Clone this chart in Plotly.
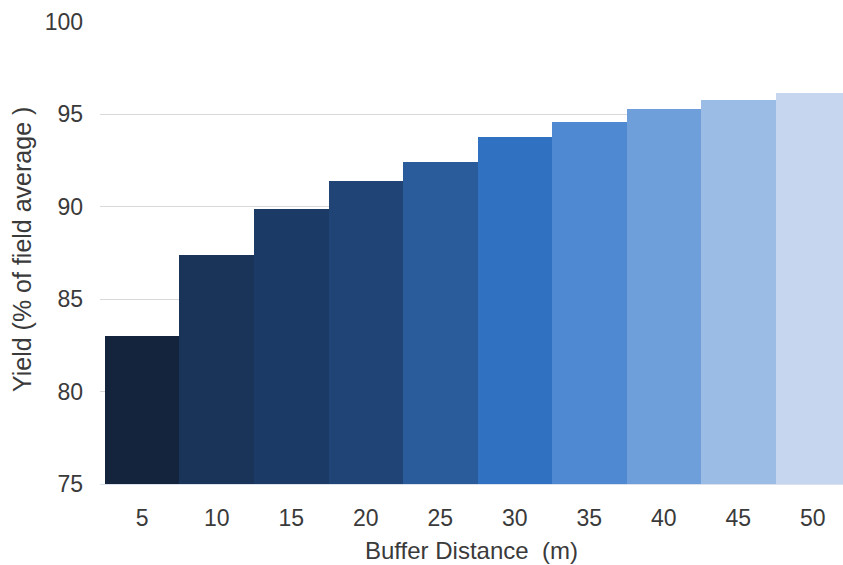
import plotly.graph_objects as go

categories = ["5", "10", "15", "20", "25", "30", "35", "40", "45", "50"]
yield_pct = [83.0, 87.4, 89.9, 91.4, 92.45, 93.8, 94.6, 95.3, 95.8, 96.15]
colors = ["#14243d", "#1a3459", "#1b3a66", "#1f4475", "#2a5b9a",
          "#3071c2", "#4f89d2", "#6f9fda", "#9bbce5", "#c5d6ee"]
baseline = 75

fig = go.Figure(go.Bar(
    x=categories, y=[v - baseline for v in yield_pct], base=baseline,
    marker_color=colors, marker_line_width=0, width=1.0,
    hovertext=[f"{v}" for v in yield_pct],
))

font = "Liberation Sans, Arial, sans-serif"
txt = "#3a3a3a"
fig.update_layout(
    width=843, height=565,
    margin=dict(l=100, r=0, t=22, b=81, autoexpand=False),
    paper_bgcolor="white", plot_bgcolor="white",
    bargap=0, showlegend=False,
    font=dict(family=font, size=23, color=txt),
)
fig.update_xaxes(
    type="category", range=[-0.567, 9.406], automargin=False,
    showgrid=False, showline=True, linecolor="#d9e2ee", linewidth=1,
    ticks="", ticklabelstandoff=13, tickfont=dict(size=23, color=txt),
)
fig.update_yaxes(
    range=[75, 100], tickvals=[75, 80, 85, 90, 95, 100], automargin=False,
    showgrid=True, gridcolor="#d9d9d9", gridwidth=1, zeroline=False,
    ticks="", ticklabelstandoff=16, tickfont=dict(size=23, color=txt),
)
fig.add_annotation(text="Buffer Distance  (m)", xref="paper", yref="paper",
                   x=(471 - 100) / 743, y=-(550 - 484) / 462, xanchor="center", yanchor="middle",
                   showarrow=False, font=dict(size=24, color=txt))
fig.add_annotation(text="Yield (% of field average )", xref="paper", yref="paper",
                   x=-(100 - 22) / 743, y=(484 - 250) / 462, xanchor="center", yanchor="middle",
                   textangle=-90, showarrow=False, font=dict(size=25, color=txt))
fig.write_html("out.html")
